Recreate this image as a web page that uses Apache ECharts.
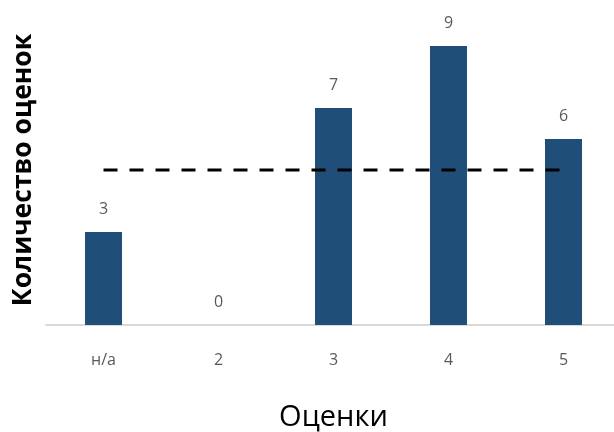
<!DOCTYPE html>
<html>
<head>
<meta charset="utf-8">
<script src="https://cdn.jsdelivr.net/npm/echarts@6/dist/echarts.min.js"></script>
<style>
  html, body { margin: 0; padding: 0; background: #fff; }
  #chart { width: 614px; height: 432px; }
</style>
</head>
<body>
<div id="chart"></div>
<script>
// Grade distribution with a reference level
const categories = ['н/а', '2', '3', '4', '5'];
const counts = [3, 0, 7, 9, 6];
const referenceLevel = [5, 5, 5, 5, 5];

const chart = echarts.init(document.getElementById('chart'));

chart.setOption({
  animation: false,
  grid: {
    left: 46, top: 15, width: 575, height: 310,
    containLabel: false,
    outerBoundsMode: 'none'
  },
  xAxis: {
    type: 'category',
    data: categories,
    name: 'Оценки',
    nameLocation: 'middle',
    nameGap: 78,
    nameTextStyle: { fontSize: 29, color: '#000', fontFamily: 'Open Sans' },
    axisLine: { show: true, lineStyle: { color: '#d9d9d9', width: 2 } },
    axisTick: { show: false },
    axisLabel: { color: '#595959', fontSize: 16, margin: 27, fontFamily: 'Open Sans' }
  },
  yAxis: {
    type: 'value',
    min: 0,
    max: 10,
    name: 'Количество оценок',
    nameLocation: 'middle',
    nameGap: 9,
    nameTextStyle: { fontSize: 26.5, fontWeight: 'bold', color: '#000', fontFamily: 'Open Sans' },
    axisLine: { show: false },
    axisTick: { show: false },
    axisLabel: { show: false },
    splitLine: { show: false }
  },
  series: [
    {
      type: 'bar',
      data: counts,
      barWidth: 37,
      itemStyle: { color: '#1F4E79' },
      label: {
        show: true,
        position: 'top',
        distance: 15,
        color: '#595959',
        fontSize: 16,
        fontFamily: 'Open Sans'
      }
    },
    {
      type: 'line',
      data: referenceLevel,
      symbol: 'none',
      silent: true,
      lineStyle: { color: '#000', width: 3, type: [14, 12] },
      z: 5
    }
  ]
});
</script>
</body>
</html>
